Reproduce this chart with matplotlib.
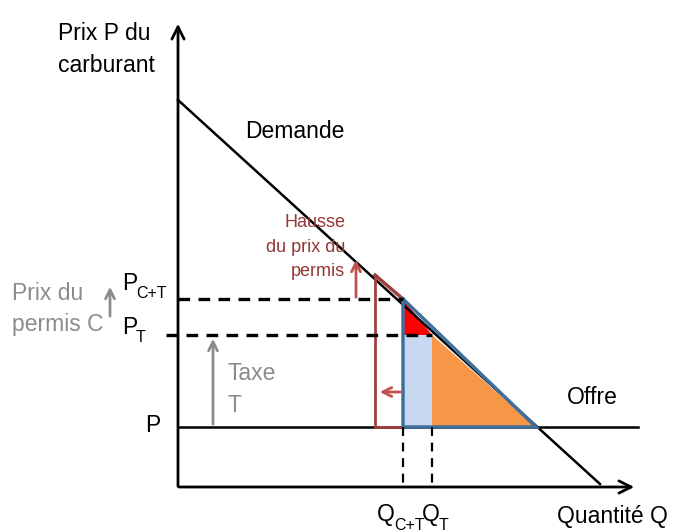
import matplotlib
matplotlib.use("Agg")
import matplotlib.pyplot as plt

plt.rcParams['font.family'] = ['Liberation Sans Narrow', 'Liberation Sans', 'DejaVu Sans']

# schematic values (axis origin = 0,0)
demand_q = [0, 422]
demand_p = [387, 3]
offre_p = 60
offre_q_end = 460
p_ct, p_t = 188, 152          # P_C+T, P_T
q_ct, q_t = 225, 254          # Q_C+T, Q_T
q_offre = 358                 # demand meets offre
shift_q = [197, 225]          # shifted demand segment (permits)
shift_p = [212, 188]

fig = plt.figure(figsize=(6.8, 5.31), dpi=100)
ax = fig.add_axes([0, 0, 1, 1])
ax.set_xlim(-178, 502)
ax.set_ylim(-44, 487)
ax.axis('off')

blue = '#41709C'
dred = '#A0403E'
rred = '#C0504D'
grey = '#8C8C8C'

# areas
ax.fill([q_ct, q_ct, q_t], [p_ct, p_t, p_t], color='#FF0000', lw=0)
ax.fill([q_ct, q_t, q_t, q_ct], [p_t, p_t, offre_p, offre_p], color='#C6D9F0', lw=0)
ax.fill([q_t, q_offre, q_t], [p_t, offre_p, offre_p], color='#F79646', lw=0)

# offre / demande
ax.plot([0, offre_q_end], [offre_p, offre_p], color='black', lw=1.8)
ax.plot(demand_q, demand_p, color='black', lw=1.8)

# permit shift lines
ax.plot([shift_q[0], shift_q[0], shift_q[1]], [shift_p[0], offre_p, offre_p], color=dred, lw=2)
ax.plot(shift_q, shift_p, color=dred, lw=2.5)

# blue outline
ax.plot([q_ct, q_offre, q_ct, q_ct], [p_ct, offre_p, offre_p, p_ct], color=blue, lw=2.5,
        solid_joinstyle='miter')

# dashed guides
ax.plot([0, q_ct], [p_ct, p_ct], color='black', lw=2.4, ls=(0, (3.5, 2.5)))
ax.plot([-12, q_t], [p_t, p_t], color='black', lw=2.4, ls=(0, (3.5, 2.5)))
ax.plot([q_ct, q_ct], [offre_p, 0], color='black', lw=1.6, ls=(0, (4, 3)))
ax.plot([q_t, q_t], [offre_p, 0], color='black', lw=1.6, ls=(0, (4, 3)))

# axes arrows
ax.annotate('', xy=(0, 466), xytext=(0, -2),
            arrowprops=dict(arrowstyle='->', lw=2, color='black', mutation_scale=22))
ax.annotate('', xy=(459, 0), xytext=(-2, 0),
            arrowprops=dict(arrowstyle='->', lw=2, color='black', mutation_scale=22))

# small arrows
ax.annotate('', xy=(199, 95), xytext=(q_ct, 95),
            arrowprops=dict(arrowstyle='->', lw=2, color=rred, mutation_scale=16))
ax.annotate('', xy=(178, 230), xytext=(178, 187),
            arrowprops=dict(arrowstyle='->', lw=2, color=rred, mutation_scale=16))
ax.annotate('', xy=(-68, 203), xytext=(-68, 168),
            arrowprops=dict(arrowstyle='->', lw=2, color=grey, mutation_scale=16))
ax.annotate('', xy=(35, 151), xytext=(35, offre_p),
            arrowprops=dict(arrowstyle='->', lw=2, color=grey, mutation_scale=16))

# texts
fs = 16.5
sub = 11.5
ax.text(-120, 438, 'Prix P du\ncarburant', fontsize=fs, ha='left', va='center', linespacing=1.5)
ax.text(67, 356, 'Demande', fontsize=fs, ha='left', va='center')
ax.text(389, 89, 'Offre', fontsize=fs, ha='left', va='center')
ax.text(379, -30, 'Quantité Q', fontsize=fs, ha='left', va='center')
ax.text(167, 240, 'Hausse\ndu prix du\npermis', fontsize=13, ha='right', va='center',
        color='#953735', linespacing=1.6)
ax.text(-166, 178, 'Prix du\npermis C', fontsize=fs, ha='left', va='center',
        color=grey, linespacing=1.5)
ax.text(50, 98, 'Taxe\nT', fontsize=fs, ha='left', va='center', color=grey, linespacing=1.5)

# labels with subscripts
ax.text(-56, 203, 'P', fontsize=fs, ha='left', va='center')
ax.text(-42, 193, 'C+T', fontsize=sub, ha='left', va='center')
ax.text(-56, 160, 'P', fontsize=fs, ha='left', va='center')
ax.text(-42, 149, 'T', fontsize=sub, ha='left', va='center')
ax.text(-33, 62, 'P', fontsize=fs, ha='left', va='center')
ax.text(199, -27, 'Q', fontsize=fs, ha='left', va='center')
ax.text(216, -38, 'C+T', fontsize=sub, ha='left', va='center')
ax.text(244, -27, 'Q', fontsize=fs, ha='left', va='center')
ax.text(261, -38, 'T', fontsize=sub, ha='left', va='center')

fig.savefig('out.png', dpi=100)
